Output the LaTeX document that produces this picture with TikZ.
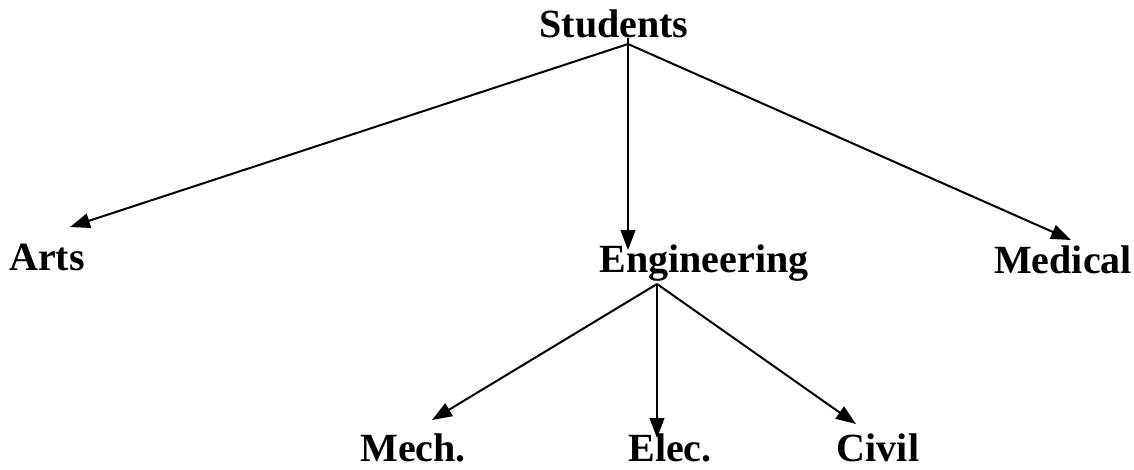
\documentclass[tikz,border=0pt]{standalone}
\usepackage{fontspec}
\setmainfont{Liberation Serif}
\usetikzlibrary{positioning,arrows.meta}

\begin{document}
\begin{tikzpicture}[x=0.75pt, y=-0.75pt,
    label/.style={font=\fontsize{30}{35}\selectfont\bfseries, anchor=base, inner sep=0pt},
    link/.style={line width=1.5pt, -{Triangle[length=15pt, width=11pt]}}
]

    % page frame
    \useasboundingbox (0,0) rectangle (1134,469);

    % Top level
    \node[label] (students) at (614, 37) {Students};
    \coordinate (students-out) at (628, 44);

    % Second level
    \node[label] (arts) at (47, 270) {Arts};
    \node[label] (eng) at (704, 272) {Engineering};
    \node[label] (med) at (1063, 273) {Medical};
    \coordinate (arts-in) at (70, 227);
    \coordinate (eng-in) at (628, 250);
    \coordinate (med-in) at (1071, 240);
    \coordinate (eng-out) at (657, 284);

    % Third level
    \node[label] (mech) at (413, 461) {Mech.};
    \node[label] (elec) at (670, 461) {Elec.};
    \node[label] (civil) at (878, 461) {Civil};
    \coordinate (mech-in) at (432, 420);
    \coordinate (elec-in) at (657, 438);
    \coordinate (civil-in) at (856, 424);

    % Arrows
    \draw[link] (students-out) -- (arts-in);
    \draw[link] (628, 38) -- (eng-in);
    \draw[link] (students-out) -- (med-in);
    \draw[link] (eng-out) -- (mech-in);
    \draw[link] (eng-out) -- (elec-in);
    \draw[link] (eng-out) -- (civil-in);

\end{tikzpicture}
\end{document}
